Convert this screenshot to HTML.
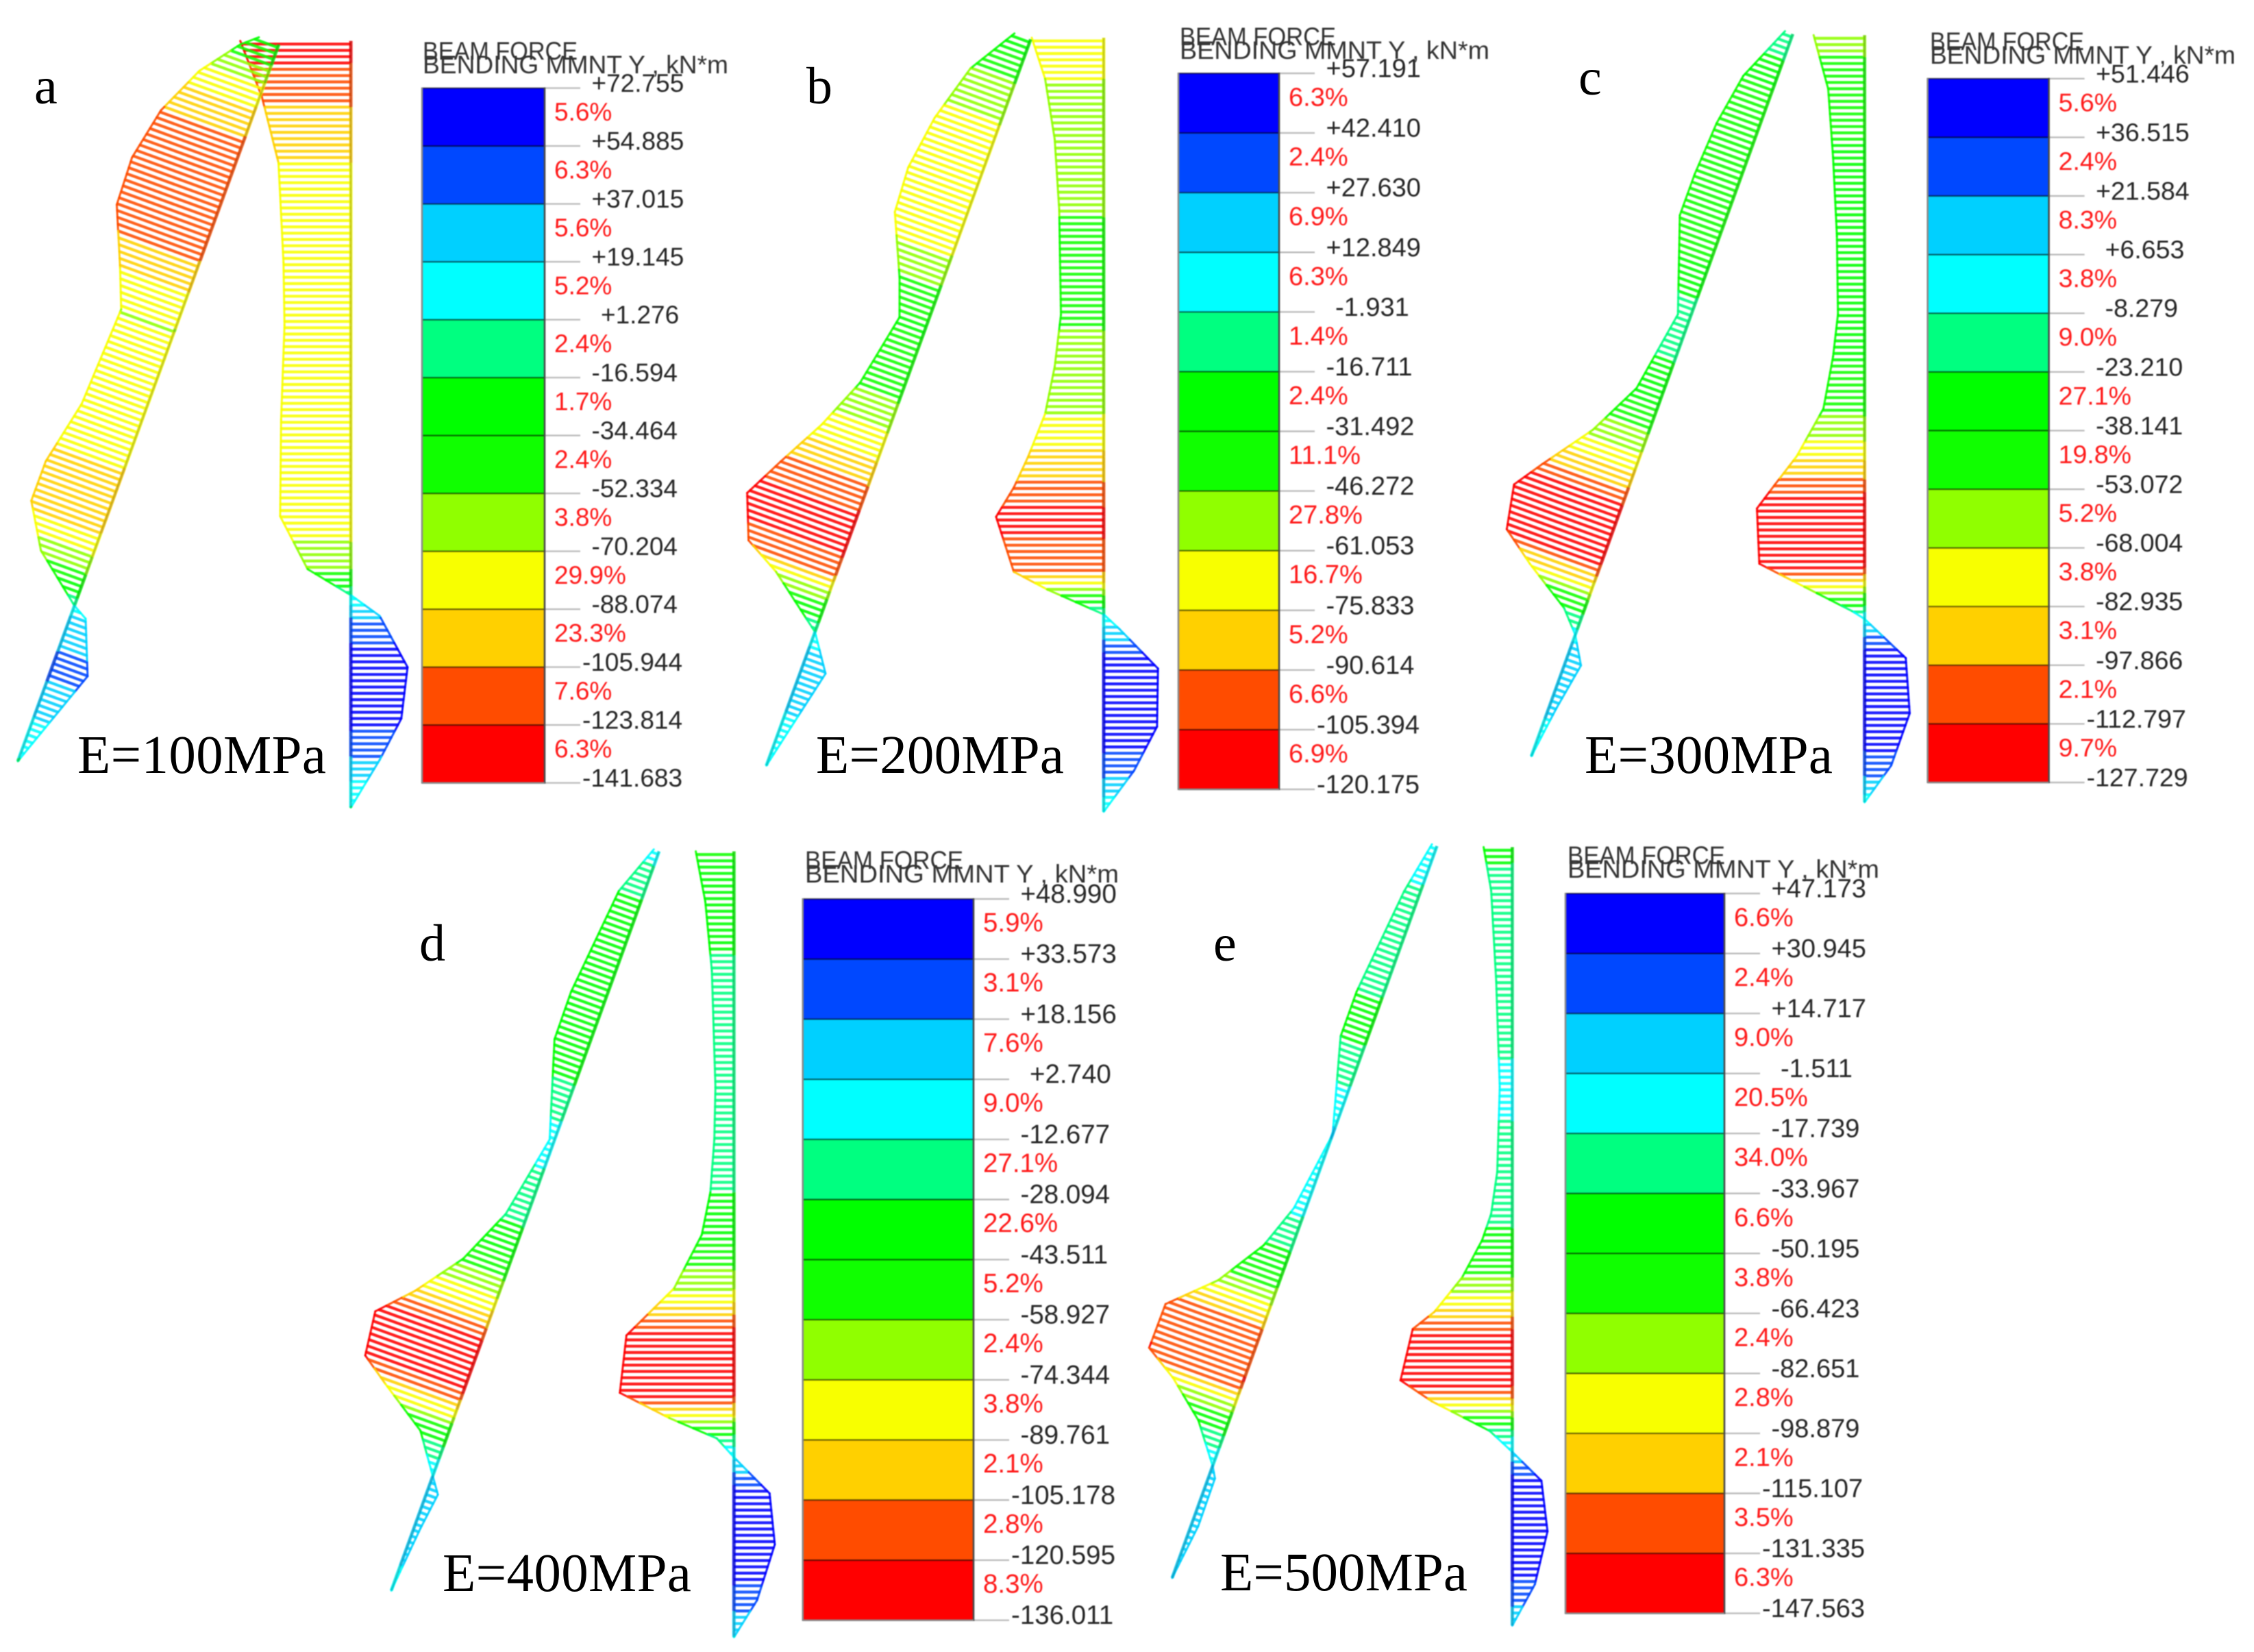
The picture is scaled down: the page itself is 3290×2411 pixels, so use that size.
<!DOCTYPE html>
<html lang="en">
<head>
<meta charset="utf-8">
<title>Beam bending moment diagrams for E=100 to 500 MPa</title>
<style>
html,body{margin:0;padding:0;background:#fff;}
svg{display:block;}
.serif{font-family:"Liberation Serif",serif;fill:#000;}
.legend-text{font-family:"Liberation Sans",sans-serif;}
.soft{filter:blur(0.9px);}
</style>
</head>
<body>
<svg id="figure" xmlns="http://www.w3.org/2000/svg" width="3290" height="2411" viewBox="0 0 3290 2411">
  <rect x="0" y="0" width="3290" height="2411" fill="#ffffff"/>
  <g id="plots"></g>

  <g class="soft legend-text" fill="#333333" font-size="37">
    <text x="617" y="87" textLength="226" lengthAdjust="spacingAndGlyphs">BEAM FORCE</text>
    <text x="617" y="107" textLength="446" lengthAdjust="spacingAndGlyphs">BENDING MMNT Y , kN*m</text>
    <text x="1722" y="66" textLength="228" lengthAdjust="spacingAndGlyphs">BEAM FORCE</text>
    <text x="1722" y="86" textLength="452" lengthAdjust="spacingAndGlyphs">BENDING MMNT Y , kN*m</text>
    <text x="2817" y="73" textLength="225" lengthAdjust="spacingAndGlyphs">BEAM FORCE</text>
    <text x="2817" y="93" textLength="446" lengthAdjust="spacingAndGlyphs">BENDING MMNT Y , kN*m</text>
    <text x="1175" y="1268" textLength="231" lengthAdjust="spacingAndGlyphs">BEAM FORCE</text>
    <text x="1175" y="1288" textLength="458" lengthAdjust="spacingAndGlyphs">BENDING MMNT Y , kN*m</text>
    <text x="2288" y="1261" textLength="230" lengthAdjust="spacingAndGlyphs">BEAM FORCE</text>
    <text x="2288" y="1281" textLength="455" lengthAdjust="spacingAndGlyphs">BENDING MMNT Y , kN*m</text>
  </g>

  <g class="serif" font-size="76">
    <text x="50" y="151">a</text>
    <text x="1177" y="151">b</text>
    <text x="2304" y="138">c</text>
    <text x="612" y="1402">d</text>
    <text x="1771" y="1402">e</text>
  </g>

  <g class="serif" font-size="79">
    <text x="113" y="1128" textLength="363">E=100MPa</text>
    <text x="1191" y="1128" textLength="362">E=200MPa</text>
    <text x="2313" y="1128" textLength="362">E=300MPa</text>
    <text x="646" y="2322" textLength="363">E=400MPa</text>
    <text x="1781" y="2321" textLength="361">E=500MPa</text>
  </g>
</svg>

<script>
// ---------- Legend band colours, shared by all panels (top = most positive) ----------
const bandColors = ['#0000ff','#0048ff','#00d0ff','#00ffff','#00ff80','#00ff00','#10ff00','#90ff00','#f8ff00','#ffd000','#ff4c00','#ff0000'];

// ---------- Panel a: E=100MPa ----------
const ticksA = ['+72.755','+54.885','+37.015','+19.145','+1.276','-16.594','-34.464','-52.334','-70.204','-88.074','-105.944','-123.814','-141.683'];
const percentsA = ['5.6%','6.3%','5.6%','5.2%','2.4%','1.7%','2.4%','3.8%','29.9%','23.3%','7.6%','6.3%'];
const rightStationsA = [0,0.073,0.159,0.289,0.371,0.494,0.620,0.689,0.723,0.750,0.817,0.884,0.938,1];
const rightMomentsA = [-134.5,-108.2,-88,-81.9,-80.7,-84.8,-86,-52.6,0,35,69,61.4,35,0];
const leftStationsA = [0,0.017,0.068,0.134,0.205,0.270,0.346,0.397,0.531,0.618,0.673,0.730,0.783,0.794,0.864,1];
const leftMomentsA = [-25.7,-43.9,-79.8,-107.3,-120.7,-118.5,-88.5,-69.9,-75.7,-92.9,-93,-61.3,0,18.2,44.4,0];

// ---------- Panel b: E=200MPa ----------
const ticksB = ['+57.191','+42.410','+27.630','+12.849','-1.931','-16.711','-31.492','-46.272','-61.053','-75.833','-90.614','-105.394','-120.175'];
const percentsB = ['6.3%','2.4%','6.9%','6.3%','1.4%','2.4%','11.1%','27.8%','16.7%','5.2%','6.6%','6.9%'];
const rightStationsB = [0,0.053,0.131,0.222,0.358,0.425,0.486,0.541,0.581,0.619,0.690,0.713,0.745,0.764,0.815,0.890,0.947,1];
const rightMomentsB = [-75,-61.1,-51.1,-46.4,-44.6,-51.1,-61.1,-78.7,-93.7,-112.2,-93.7,-58.6,0,16.5,56.6,55.6,31.6,0];
const leftStationsB = [0,0.062,0.138,0.210,0.270,0.348,0.396,0.493,0.561,0.624,0.677,0.734,0.760,0.816,0.862,1];
const leftMomentsB = [-18,-48.6,-66.1,-74.3,-71.5,-43.4,-29.4,-44.7,-67.4,-94.4,-116,-97.8,-59.7,0,25.2,0];

// ---------- Panel c: E=300MPa ----------
const ticksC = ['+51.446','+36.515','+21.584','+6.653','-8.279','-23.210','-38.141','-53.072','-68.004','-82.935','-97.866','-112.797','-127.729'];
const percentsC = ['5.6%','2.4%','8.3%','3.8%','9.0%','27.1%','19.8%','5.2%','3.8%','3.1%','2.1%','9.7%'];
const rightStationsC = [0,0.070,0.159,0.262,0.364,0.419,0.487,0.549,0.586,0.617,0.689,0.706,0.751,0.761,0.812,0.884,0.952,1];
const rightMomentsC = [-59.5,-42.5,-36.8,-32.3,-31.1,-36.8,-48.1,-79.3,-104.8,-125.7,-122.9,-93.4,-14.2,0,48.1,52.7,31.1,0];
const leftStationsC = [0,0.073,0.143,0.215,0.272,0.394,0.503,0.573,0.638,0.675,0.733,0.765,0.804,0.832,0.867,0.930,1];
const leftMomentsC = [-9.7,-37.7,-48.2,-52,-52,-14.7,-30.8,-62.1,-104.4,-127,-117.2,-78.2,-23,0,18.4,8.5,0];

// ---------- Panel d: E=400MPa ----------
const ticksD = ['+48.990','+33.573','+18.156','+2.740','-12.677','-28.094','-43.511','-58.927','-74.344','-89.761','-105.178','-120.595','-136.011'];
const percentsD = ['5.9%','3.1%','7.6%','9.0%','27.1%','22.6%','5.2%','2.4%','3.8%','2.1%','2.8%','8.3%'];
const rightStationsD = [0,0.064,0.152,0.300,0.367,0.434,0.488,0.556,0.616,0.689,0.721,0.747,0.771,0.817,0.882,0.953,1];
const rightMomentsD = [-45.3,-34,-26.2,-22,-23.3,-28,-38.2,-71,-127.6,-135.4,-76.9,-20.3,0,42.3,48.5,27.4,0];
const leftStationsD = [0,0.065,0.146,0.206,0.270,0.392,0.500,0.572,0.631,0.673,0.730,0.755,0.796,0.845,0.865,0.913,1];
const leftMomentsD = [-6.7,-28.9,-36.1,-41.4,-40.7,-5.6,-24.5,-53.9,-94.4,-130.7,-124.1,-90.6,-32.2,0,13.2,7.4,0];

// ---------- Panel e: E=500MPa ----------
const ticksE = ['+47.173','+30.945','+14.717','-1.511','-17.739','-33.967','-50.195','-66.423','-82.651','-98.879','-115.107','-131.335','-147.563'];
const percentsE = ['6.6%','2.4%','9.0%','20.5%','34.0%','6.6%','3.8%','2.4%','2.8%','2.1%','3.5%','6.3%'];
const rightStationsE = [0,0.056,0.172,0.308,0.417,0.471,0.505,0.553,0.597,0.619,0.685,0.712,0.750,0.777,0.814,0.879,0.947,1];
const rightMomentsE = [-37.7,-27.8,-21.2,-16.5,-19.8,-27.8,-39.7,-66.1,-102.4,-130.9,-147,-105.8,-29.7,0,38.3,46.3,29.7,0];
const leftStationsE = [0,0.069,0.151,0.211,0.272,0.394,0.500,0.558,0.620,0.672,0.732,0.758,0.798,0.847,0.861,0.926,1];
const leftMomentsE = [-7,-20.4,-28.4,-34.2,-34,0,-14.9,-35.6,-76.1,-130.7,-131.4,-88.2,-38.2,0,8.4,9.1,0];

// ---------- Layout only: where each panel sits on the page ----------
const panels = [
  {id:'a', ticks:ticksA, percents:percentsA, rs:rightStationsA, rm:rightMomentsA, ls:leftStationsA, lm:leftMomentsA,
   scale:1.2, pitch:9.2, fs:37, legend:[616,128.6,795,1142.6],
   right:[512.1,59.7,512.1,1178.5], left:[406.9,65,26,1111]},
  {id:'b', ticks:ticksB, percents:percentsB, rs:rightStationsB, rm:rightMomentsB, ls:leftStationsB, lm:leftMomentsB,
   scale:1.4, pitch:9.2, fs:38, legend:[1720,107,1867,1152],
   right:[1611,55.1,1611,1184.7], left:[1504.4,57.4,1118.6,1117.3]},
  {id:'c', ticks:ticksC, percents:percentsC, rs:rightStationsC, rm:rightMomentsC, ls:leftStationsC, lm:leftMomentsC,
   scale:1.25, pitch:9.2, fs:37.5, legend:[2813.6,114.8,2990.6,1142],
   right:[2721.6,51.3,2721.6,1170.9], left:[2616.8,49.7,2235.2,1103.6]},
  {id:'d', ticks:ticksD, percents:percentsD, rs:rightStationsD, rm:rightMomentsD, ls:leftStationsD, lm:leftMomentsD,
   scale:1.23, pitch:9.2, fs:38.5, legend:[1171.8,1312,1421,2364.7],
   right:[1071.3,1242.5,1071.3,2389.4], left:[962,1242.5,571.1,2321.4]},
  {id:'e', ticks:ticksE, percents:percentsE, rs:rightStationsE, rm:rightMomentsE, ls:leftStationsE, lm:leftMomentsE,
   scale:1.11, pitch:9.2, fs:38, legend:[2285,1304,2517,2354.6],
   right:[2207.4,1236.3,2207.4,2372.4], left:[2097.4,1234.8,1710.9,2302.9]}
];

// ---------- Drawing ----------
const SVGNS = 'http://www.w3.org/2000/svg';
const plots = document.getElementById('plots');

function make(tag, parent, attrs) {
  const el = document.createElementNS(SVGNS, tag);
  for (const key in attrs) el.setAttribute(key, attrs[key]);
  parent.appendChild(el);
  return el;
}

// Moment at a station along the member (between the values)
function momentAt(stations, moments, s) {
  for (let i = 0; i < stations.length - 1; i++) {
    if (s <= stations[i + 1]) {
      const f = (s - stations[i]) / ((stations[i + 1] - stations[i]) || 1);
      return moments[i] + (moments[i + 1] - moments[i]) * f;
    }
  }
  return moments[moments.length - 1];
}

// Colour of a moment value = colour of the legend band containing it
function colorFor(ticks, value) {
  const nums = ticks.map(parseFloat);
  for (let i = 0; i < bandColors.length; i++) {
    if (value >= nums[i + 1]) return bandColors[i];
  }
  return bandColors[bandColors.length - 1];
}

// Member axis: station -> point on the member; moment -> offset along its normal
function basePoint(line, s) {
  return [line[0] + (line[2] - line[0]) * s, line[1] + (line[3] - line[1]) * s];
}
function outerPoint(line, scale, s, value) {
  const dx = line[2] - line[0], dy = line[3] - line[1];
  const len = Math.hypot(dx, dy);
  const b = basePoint(line, s);
  return [b[0] + (dy / len) * value * scale, b[1] - (dx / len) * value * scale];
}

function drawMember(panel, group, line, stations, moments, name) {
  const len = Math.hypot(line[2] - line[0], line[3] - line[1]);
  const hatchStations = [];
  for (let t = panel.pitch / 2; t < len; t += panel.pitch) hatchStations.push(t / len);

  hatchStations.forEach(function (s) {
    const value = momentAt(stations, moments, s);
    const a = basePoint(line, s);
    const b = outerPoint(line, panel.scale, s, value);
    const hatch = make('line', group, {x1:a[0], y1:a[1], x2:b[0], y2:b[1],
      stroke:colorFor(panel.ticks, value), 'stroke-width':4.2, 'stroke-opacity':0.88});
    
    
  });

  const samples = stations.concat(hatchStations).sort(function (p, q) { return p - q; });
  for (let i = 0; i < samples.length - 1; i++) {
    const s0 = samples[i], s1 = samples[i + 1];
    if (s1 - s0 < 1e-6) continue;
    const mid = momentAt(stations, moments, (s0 + s1) / 2);
    const color = colorFor(panel.ticks, mid);
    const p0 = outerPoint(line, panel.scale, s0, momentAt(stations, moments, s0));
    const p1 = outerPoint(line, panel.scale, s1, momentAt(stations, moments, s1));
    const edge = make('line', group, {x1:p0[0], y1:p0[1], x2:p1[0], y2:p1[1],
      stroke:color, 'stroke-width':3, 'stroke-linecap':'round', 'stroke-opacity':0.9});
    
    
    const b0 = basePoint(line, s0), b1 = basePoint(line, s1);
    const base = make('line', group, {x1:b0[0], y1:b0[1], x2:b1[0], y2:b1[1],
      stroke:color, 'stroke-width':5, 'stroke-opacity':0.8});
    
    
  }
  const shade = make('line', group, {x1:line[0], y1:line[1], x2:line[2], y2:line[3],
    stroke:'#000000', 'stroke-width':3, 'stroke-opacity':0.2});
  
  
}

function drawLegend(panel, group) {
  const L = panel.legend[0], T = panel.legend[1], R = panel.legend[2], B = panel.legend[3];
  const bandH = (B - T) / bandColors.length;

  bandColors.forEach(function (color, i) {
    const band = make('rect', group, {x:L, y:T + i * bandH, width:R - L, height:bandH + 0.5, fill:color});
    
    
  });

  panel.ticks.forEach(function (label, i) {
    const y = T + i * bandH;
    const sep = make('line', group, {x1:L, y1:y, x2:R, y2:y, stroke:'#000', 'stroke-opacity':0.55, 'stroke-width':2.2});
    
    
    const tick = make('line', group, {x1:R, y1:y, x2:R + 52, y2:y, stroke:'#bdbdbd', 'stroke-width':2.4});
    
    
    const offset = label.length >= 8 ? 55 : (label.length === 7 ? 68.5 : 82);
    const text = make('text', group, {x:R + offset, y:y + 5.5, 'font-size':panel.fs, fill:'#262626'});
    text.textContent = label;
    
    
  });

  panel.percents.forEach(function (label, i) {
    const text = make('text', group, {x:R + 14, y:T + i * bandH + 47.5, 'font-size':panel.fs, fill:'#ff1a1a'});
    text.textContent = label;
    
    
  });

  const leftEdge = make('line', group, {x1:L, y1:T - 1, x2:L, y2:B + 1, stroke:'#8a8a8a', 'stroke-width':2.6});
  
  
  const rightEdge = make('line', group, {x1:R, y1:T - 1, x2:R, y2:B + 1, stroke:'#4a4a4a', 'stroke-width':2.6});
  
  
  const bottomEdge = make('line', group, {x1:L, y1:B, x2:R, y2:B, stroke:'#8a8a8a', 'stroke-width':2.4});
  
  
}

panels.forEach(function (panel) {
  const group = make('g', plots, {class:'soft'});
  
  

  const rightGroup = make('g', group, {});
  
  
  drawMember(panel, rightGroup, panel.right, panel.rs, panel.rm, 'right-member');

  const leftGroup = make('g', group, {});
  
  
  drawMember(panel, leftGroup, panel.left, panel.ls, panel.lm, 'left-member');

  const legendGroup = make('g', group, {class:'legend-text'});
  
  
  drawLegend(panel, legendGroup);
});
</script>
</body>
</html>
